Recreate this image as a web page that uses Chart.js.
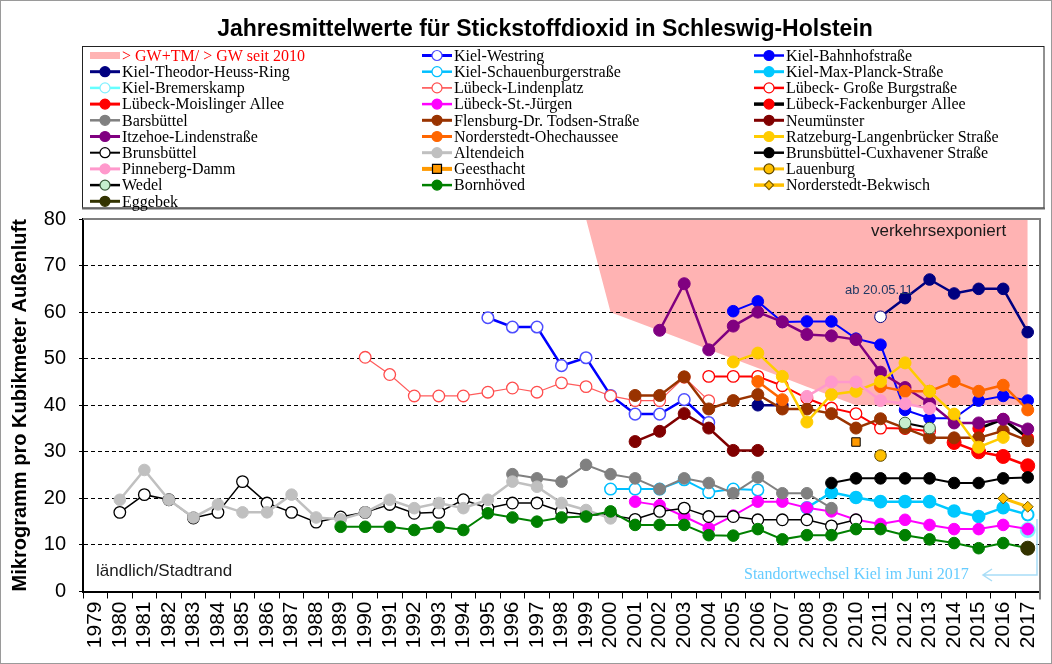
<!DOCTYPE html>
<html>
<head>
<meta charset="utf-8">
<script src="https://cdn.jsdelivr.net/npm/chart.js"></script>
<style>
  html, body { margin: 0; padding: 0; background: #fff; }
  canvas { display: block; }
</style>
</head>
<body>
<canvas id="no2Chart" width="1052" height="664"></canvas>
<script>
// Jahre (Kategorien)
const YEARS = ['1979', '1980', '1981', '1982', '1983', '1984', '1985', '1986', '1987', '1988',
    '1989', '1990', '1991', '1992', '1993', '1994', '1995', '1996', '1997', '1998', '1999',
    '2000', '2001', '2002', '2003', '2004', '2005', '2006', '2007', '2008', '2009', '2010',
    '2011', '2012', '2013', '2014', '2015', '2016', '2017'];
const Y_TICKS = [0, 10, 20, 30, 40, 50, 60, 70, 80];

// Grenzwert + Toleranzmarge (ab 1999)
const gwLimit = [80, 60, 58, 56, 54, 52, 50, 48, 46, 44, 42, 40, 40, 40, 40, 40, 40, 40, 40];

// Messwerte, jeweils ab dem angegebenen Startjahr
const kielWestring = [58.8, 56.8, 56.8, 48.5, 50.2, 42.1, 38.1, 38.1, 41.2, 36.3];          // ab 1995
const kielBahnhof = [60.2, 62.3, 57.9, 58, 58, 54.3, 53, 39, 37.2, 37.2, 41, 42, 41];          // ab 2005
const kielTheodorHeuss = [40, 40, null, null, null, 59, 63, 67, 64, 65, 65, 55.7];             // ab 2006
const kielSchauenburger = [22, 22, 22, 24, 21.3, 22, 21.8];                                    // ab 2000
const kielMaxPlanck = [18, 21.3, 20.2, 19.3, 19.3, 19.3, 17.3, 16.1, 18, 16.5];                // ab 2008
const kielBremerskamp = [13.2];                                                                 // ab 2017
const luebeckLindenplatz = [50.3, 46.6, 42, 42, 42, 42.8, 43.7, 42.8, 44.8, 44, 42, 41, 41, 46, 41]; // ab 1990
const luebeckBurgstrasse = [46.2, 46.2, 46.2, 44.2, 41.5, 39.4, 38.2, 35.1, 35, 34.4];         // ab 2004
const luebeckMoislinger = [32, 30, 29, 27];                                                     // ab 2014
const luebeckStJuergen = [19.3, 18.5, 16.1, 13.6, 16.3, 19.3, 19.3, 18, 17.2, 15.4, 14.5, 15.4, 14.3, 13.4, 13.4, 14.3, 13.4]; // ab 2001
const luebeckFackenburger = [35, 37, 33];                                                       // ab 2015
const barsbuettel = [25.2, 24.3, 23.6, 27.2, 25.2, 24.3, 22, 24.3, 23.3, 21.1, 24.5, 21.1, 21.1, 17.9]; // ab 1996
const flensburg = [42.1, 42.1, 46.1, 39.2, 41, 42.3, 39.2, 39.2, 38.2, 35.1, 37.1, 35.1, 33, 33, 33, 34.5, 32.4]; // ab 2001
const neumuenster = [32.2, 34.4, 38.2, 35.1, 30.3, 30.3];                                      // ab 2001
const itzehoe = [56.1, 66.1, 51.9, 57, 60, 57.9, 55.2, 54.9, 54.1, 47.1, 43.8, 40.5, 36.2, 36.2, 37, 34.9]; // ab 2002
const norderstedtOhe = [45.1, 41.2, null, null, null, 44, 43, 43, 45.1, 43, 44.3, 39];         // ab 2006
const ratzeburg = [49.3, 51.2, 46.2, 36.4, 42.3, 43, 45.1, 49.1, 43, 38.1, 31, 33.1];          // ab 2005
const brunsbuettel = [17, 20.8, 19.7, 15.8, 17, 23.6, 19, 17, 14.9, 16, 17, 18.7, 16.8, 17, 19.7,
    17.9, 19, 19, 17.2, 16.5, 16.4, 15.5, 17.2, 17.9, 16.1, 16.1, 15.4, 15.4, 15.4, 14.1, 15.4]; // ab 1980
const altendeich = [19.7, 26.1, 19.7, 15.9, 18.7, 17, 17, 20.8, 15.9, 15.5, 17, 19.7, 17.9, 19,
    17.9, 19.7, 23.6, 22.5, 19, 17.5, 15.7];                                                    // ab 1980
const brunsbuettelCux = [23.3, 24.3, 24.3, 24.3, 24.3, 23.3, 23.3, 24.3, 24.5];                // ab 2009
const pinneberg = [41.9, 45, 45, 41, 40.3, 39.3];                                              // ab 2008
const geesthacht = [32.1];                                                                      // ab 2010
const lauenburg = [29.2];                                                                       // ab 2011
const wedel = [36.2, 35.1];                                                                     // ab 2012
const bornhoeved = [13.9, 13.9, 13.9, 13.2, 13.9, 13.2, 16.8, 15.9, 15, 15.9, 16.1, 17.2, 14.3, 14.3,
    14.3, 12.1, 12, 13.4, 11.2, 12.1, 12.1, 13.4, 13.4, 12.1, 11.2, 10.4, 9.3, 10.4, 9.3];      // ab 1989
const norderstedtBek = [20, 18.2];                                                              // ab 2016
const eggebek = [9.3];                                                                          // ab 2017

// Reihe auf die volle Jahresachse legen
function series(startYear, values) {
    var out = YEARS.map(function () { return null; });
    var i0 = YEARS.indexOf(String(startYear));
    values.forEach(function (v, i) { out[i0 + i] = v; });
    return out;
}

var orderIdx = 0;
function mk(label, start, values, o) {
    orderIdx++;
    return {
        label: label,
        data: series(start, values),
        borderColor: o.line,
        borderWidth: o.width || 2,
        backgroundColor: o.fill,
        pointBackgroundColor: o.fills || o.fill,
        pointBorderColor: o.edge || o.fill,
        pointBorderWidth: o.edgeW || 1,
        pointRadius: o.r || 5.8,
        pointStyle: o.shape || 'circle',
        fill: false,
        tension: 0,
        spanGaps: false,
        order: -orderIdx,
        markerFill: o.fill,
        markerEdge: o.edge || o.fill,
        markerShape: o.shape || 'circle'
    };
}

function openAt(year, normal) {
    var idx = YEARS.indexOf(String(year));
    return function (ctx) { return ctx.dataIndex === idx ? '#ffffff' : normal; };
}

var datasets = [
    {
        label: '> GW+TM/ > GW seit 2010',
        data: series(1999, gwLimit),
        backgroundColor: '#FFB3B3',
        borderColor: 'rgba(0,0,0,0)',
        borderWidth: 0,
        pointRadius: 0,
        fill: 'end',
        order: 100,
        isArea: true
    },
    mk('Kiel-Westring', 1995, kielWestring, {line: '#0000FF', width: 2.5, fill: '#ffffff', edge: '#4D4DFF', edgeW: 1.5}),
    mk('Kiel-Bahnhofstraße', 2005, kielBahnhof, {line: '#0000FF', fill: '#0000FF'}),
    mk('Kiel-Theodor-Heuss-Ring', 2006, kielTheodorHeuss, {line: '#000080', width: 2.5, fill: '#000080', fills: openAt(2011, '#000080')}),
    mk('Kiel-Schauenburgerstraße', 2000, kielSchauenburger, {line: '#00BFFF', fill: '#ffffff', edge: '#00BFFF', edgeW: 1.5}),
    mk('Kiel-Max-Planck-Straße', 2008, kielMaxPlanck, {line: '#00C8FF', width: 2.5, fill: '#00C8FF', fills: openAt(2017, '#00C8FF'), edgeW: 2}),
    mk('Kiel-Bremerskamp', 2017, kielBremerskamp, {line: '#66FFFF', fill: '#ffffff', edge: '#80F0FF', edgeW: 3, r: 6.5}),
    mk('Lübeck-Lindenplatz', 1990, luebeckLindenplatz, {line: '#FF5C5C', width: 1.2, fill: '#ffffff', edge: '#FF4D4D', edgeW: 1.3}),
    mk('Lübeck- Große Burgstraße', 2004, luebeckBurgstrasse, {line: '#FF0000', fill: '#ffffff', edge: '#FF0000', edgeW: 1.3}),
    mk('Lübeck-Moislinger Allee', 2014, luebeckMoislinger, {line: '#FF0000', width: 2.5, fill: '#FF0000', r: 7}),
    mk('Lübeck-St.-Jürgen', 2001, luebeckStJuergen, {line: '#FF00FF', fill: '#FF00FF'}),
    mk('Lübeck-Fackenburger Allee', 2015, luebeckFackenburger, {line: '#000000', width: 3, fill: '#FF0000', edge: '#FF0000'}),
    mk('Barsbüttel', 1996, barsbuettel, {line: '#808080', fill: '#808080'}),
    mk('Flensburg-Dr. Todsen-Straße', 2001, flensburg, {line: '#993300', width: 2.5, fill: '#993300', r: 6}),
    mk('Neumünster', 2001, neumuenster, {line: '#800000', width: 2.5, fill: '#800000', r: 6}),
    mk('Itzehoe-Lindenstraße', 2002, itzehoe, {line: '#800080', width: 2.5, fill: '#800080', r: 6}),
    mk('Norderstedt-Ohechaussee', 2006, norderstedtOhe, {line: '#FF6600', width: 2.5, fill: '#FF6600', r: 6}),
    mk('Ratzeburg-Langenbrücker Straße', 2005, ratzeburg, {line: '#FFCC00', width: 2.5, fill: '#FFCC00', r: 6}),
    mk('Brunsbüttel', 1980, brunsbuettel, {line: '#000000', width: 1.5, fill: '#ffffff', edge: '#000000', edgeW: 1.3}),
    mk('Altendeich', 1980, altendeich, {line: '#C0C0C0', width: 2.5, fill: '#C0C0C0'}),
    mk('Brunsbüttel-Cuxhavener Straße', 2009, brunsbuettelCux, {line: '#000000', fill: '#000000'}),
    mk('Pinneberg-Damm', 2008, pinneberg, {line: '#FF99CC', width: 2.5, fill: '#FF99CC', r: 6}),
    mk('Geesthacht', 2010, geesthacht, {line: '#FF9900', width: 4, fill: '#FF9900', edge: '#000000', shape: 'rect', r: 6}),
    mk('Lauenburg', 2011, lauenburg, {line: '#FFC000', width: 2.5, fill: '#FFC000', edge: '#5A4500'}),
    mk('Wedel', 2012, wedel, {line: '#000000', fill: '#C6EFCE', edge: '#3A5A3A'}),
    mk('Bornhöved', 1989, bornhoeved, {line: '#008000', fill: '#008000'}),
    mk('Norderstedt-Bekwisch', 2016, norderstedtBek, {line: '#FFC000', width: 3, fill: '#FFC000', edge: '#7A5C00', shape: 'rectRot', r: 5.5}),
    mk('Eggebek', 2017, eggebek, {line: '#333300', width: 2.5, fill: '#333300', r: 7})
];

function drawMarker(ctx, shape, x, y, r, fill, edge, lw) {
    ctx.beginPath();
    if (shape === 'rect') {
        ctx.rect(x - r, y - r, 2 * r, 2 * r);
    } else if (shape === 'rectRot') {
        ctx.moveTo(x, y - r); ctx.lineTo(x + r, y); ctx.lineTo(x, y + r); ctx.lineTo(x - r, y); ctx.closePath();
    } else {
        ctx.arc(x, y, r, 0, Math.PI * 2);
    }
    ctx.fillStyle = fill; ctx.fill();
    ctx.lineWidth = lw; ctx.strokeStyle = edge; ctx.stroke();
}

// Titel, Legende, Rahmen und Beschriftungen
var decorPlugin = {
    id: 'decor',
    afterDraw: function (chart) {
        var ctx = chart.ctx, a = chart.chartArea;
        ctx.save();

        // äußerer Rahmen
        ctx.strokeStyle = '#9a9a9a'; ctx.lineWidth = 1;
        ctx.strokeRect(0.5, 0.5, 1051, 663);

        // Plotrahmen oben/rechts
        ctx.strokeStyle = '#7f7f7f'; ctx.lineWidth = 2;
        ctx.beginPath(); ctx.moveTo(a.left, a.top); ctx.lineTo(a.right, a.top); ctx.lineTo(a.right, a.bottom + 8); ctx.stroke();

        // Titel
        ctx.fillStyle = '#000';
        ctx.font = 'bold 23px Arial, "Liberation Sans", sans-serif';
        ctx.textAlign = 'center'; ctx.textBaseline = 'middle';
        ctx.fillText('Jahresmittelwerte für Stickstoffdioxid in Schleswig-Holstein', 545, 30);

        // Legendenrahmen
        ctx.strokeStyle = '#222'; ctx.lineWidth = 1;
        ctx.strokeRect(82.5, 46.5, 961.5, 161.5);
        ctx.strokeStyle = '#666'; ctx.lineWidth = 2;
        ctx.beginPath(); ctx.moveTo(82, 208.5); ctx.lineTo(1045, 208.5); ctx.stroke();

        // Legende, 3 Spalten
        var colX = [90, 422, 754];
        ctx.font = '16px "Times New Roman", "Liberation Serif", serif';
        ctx.textAlign = 'left'; ctx.textBaseline = 'middle';
        chart.data.datasets.forEach(function (ds, i) {
            var x = colX[i % 3], y = 55.5 + Math.floor(i / 3) * 16.2;
            if (ds.isArea) {
                ctx.fillStyle = ds.backgroundColor;
                ctx.fillRect(x, y - 3.5, 30, 7);
                ctx.fillStyle = '#FF0000';
            } else {
                ctx.strokeStyle = ds.borderColor;
                ctx.lineWidth = Math.min(ds.borderWidth + 0.5, 4);
                ctx.beginPath(); ctx.moveTo(x, y); ctx.lineTo(x + 30, y); ctx.stroke();
                var r = ds.markerShape === 'circle' ? 5 : 4.5;
                drawMarker(ctx, ds.markerShape, x + 15, y, r, ds.markerFill, ds.markerEdge, 1.2);
                ctx.fillStyle = '#000';
            }
            ctx.fillText(ds.label, x + 32, y + 1);
        });

        // Beschriftungen im Diagramm
        ctx.fillStyle = '#1a1a1a';
        ctx.font = '17px Arial, "Liberation Sans", sans-serif';
        ctx.textAlign = 'left';
        ctx.fillText('verkehrsexponiert', 871, 231);
        ctx.fillText('ländlich/Stadtrand', 96, 571);

        ctx.fillStyle = '#203864';
        ctx.font = '13px Arial, "Liberation Sans", sans-serif';
        ctx.fillText('ab 20.05.11', 845, 290);

        ctx.fillStyle = '#66CCFF';
        ctx.font = '16px "Times New Roman", "Liberation Serif", serif';
        ctx.fillText('Standortwechsel Kiel im Juni 2017', 744, 575);

        // Pfeil Standortwechsel
        ctx.strokeStyle = '#A8DDF7'; ctx.lineWidth = 1.5;
        ctx.beginPath();
        ctx.moveTo(1037, 519); ctx.lineTo(1037, 575); ctx.lineTo(983, 575);
        ctx.moveTo(992, 569); ctx.lineTo(983, 575); ctx.lineTo(992, 581);
        ctx.stroke();

        ctx.restore();
    }
};

new Chart(document.getElementById('no2Chart').getContext('2d'), {
    type: 'line',
    data: { labels: YEARS, datasets: datasets },
    plugins: [decorPlugin],
    options: {
        responsive: false,
        animation: false,
        devicePixelRatio: 1,
        events: [],
        layout: { padding: { top: 219, right: 12, left: 0, bottom: 0 } },
        plugins: {
            legend: { display: false },
            title: { display: false },
            tooltip: { enabled: false },
            filler: { drawTime: 'beforeDraw' }
        },
        scales: {
            x: {
                offset: true,
                grid: { offset: true, drawOnChartArea: false, drawTicks: true, tickLength: 7, color: '#000', tickColor: '#000' },
                border: { display: true, color: '#000', width: 2 },
                ticks: {
                    autoSkip: false, minRotation: 90, maxRotation: 90, padding: 3,
                    color: '#000', font: { family: 'Arial, "Liberation Sans", sans-serif', size: 21, lineHeight: 1 }
                },
                afterFit: function (scale) { scale.height = 72.5; }
            },
            y: {
                min: 0, max: 80,
                afterBuildTicks: function (scale) { scale.ticks = Y_TICKS.map(function (v) { return {value: v}; }); },
                grid: {
                    color: function (c) { return (c.tick && (c.tick.value === 0 || c.tick.value === 80)) ? 'rgba(0,0,0,0)' : '#000'; },
                    tickColor: '#000', tickLength: 4, lineWidth: 1
                },
                border: { display: true, color: '#000', width: 2, dash: [4, 3] },
                ticks: {
                    padding: 13, color: '#000',
                    font: { family: 'Arial, "Liberation Sans", sans-serif', size: 20 }
                },
                title: {
                    display: true, text: 'Mikrogramm pro Kubikmeter Außenluft', color: '#000',
                    padding: { top: 8, bottom: 0 },
                    font: { family: 'Arial, "Liberation Sans", sans-serif', size: 20, weight: 'bold' }
                },
                afterFit: function (scale) { scale.width = 83; }
            }
        }
    }
});
</script>
</body>
</html>
